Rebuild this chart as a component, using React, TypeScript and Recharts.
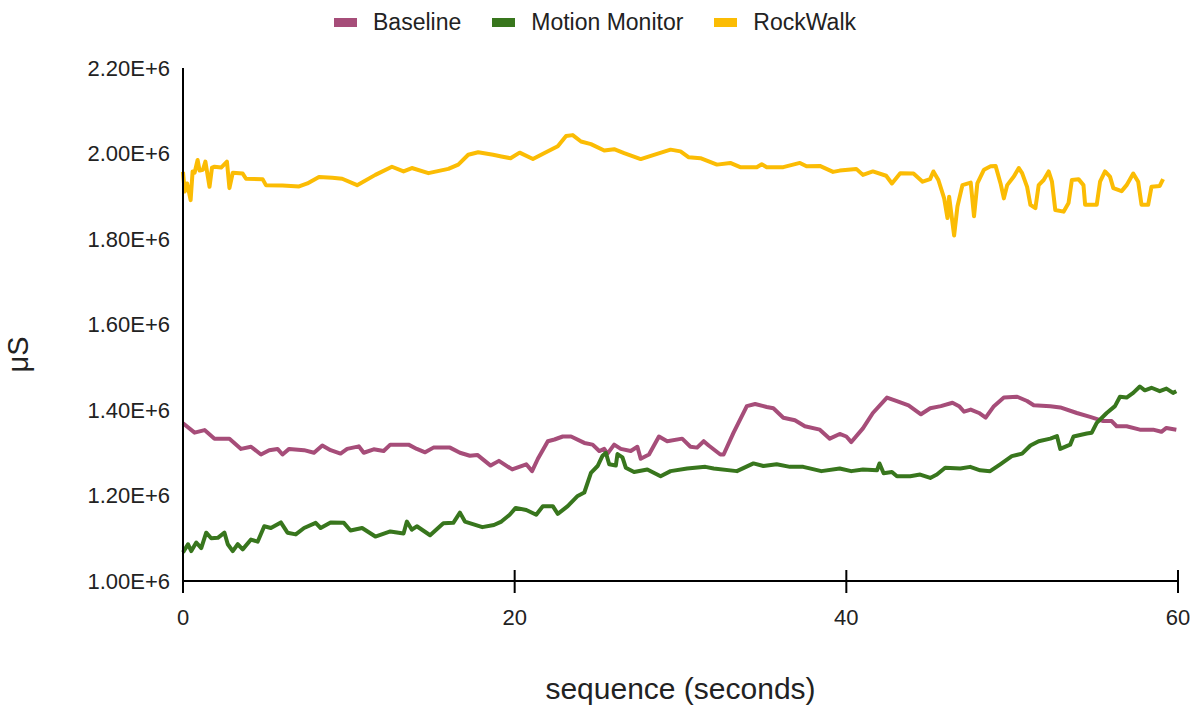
import React from 'react';
import { LineChart, Line, XAxis, YAxis, Legend } from 'recharts';

// Readings of skin conductance, values in thousands of μS (x1E3), time in seconds
const baselineTime = [
  0, 0.7, 1.3, 1.9, 2.8, 3.5, 4.1, 4.7, 5.2, 5.7, 6.0, 6.4, 7.3, 7.9, 8.4, 8.9, 9.5, 9.9, 10.6, 10.9,
  11.5, 12.1, 12.5, 13.6, 14.1, 14.6, 15.1, 16.1, 16.7, 17.3, 17.75, 18.55, 19.05, 19.85, 20.7, 21.05,
  21.4, 22.0, 22.4, 22.9, 23.4, 24.2, 24.7, 25.1, 25.4, 25.6, 26.0, 26.4, 27.0, 27.4, 27.6, 28.1, 28.7,
  29.2, 30.1, 30.6, 31.0, 31.4, 31.7, 32.4, 32.6, 33.2, 34.0, 34.5, 35.2, 35.6, 36.2, 36.9, 37.5, 38.4,
  39.0, 39.6, 40.0, 40.3, 41.0, 41.6, 42.45, 43.05, 43.75, 44.5, 45.06, 45.7, 46.4, 46.8, 47.1, 47.5,
  48.0, 48.4, 48.9, 49.5, 50.3, 50.9, 51.3, 52.3, 52.9, 53.9, 54.7, 55.5, 56.0, 56.3, 56.9, 57.7, 58.5,
  59.0, 59.3, 59.9,
];
const baselineValue = [
  1369, 1347, 1353, 1333, 1333, 1309, 1314, 1296, 1306, 1309, 1296, 1309, 1306, 1300, 1317, 1306, 1298,
  1309, 1315, 1300, 1308, 1304, 1319, 1319, 1309, 1301, 1312, 1312, 1300, 1293, 1295, 1270, 1281, 1261,
  1273, 1257, 1286, 1327, 1331, 1338, 1338, 1323, 1319, 1304, 1309, 1298, 1319, 1309, 1304, 1314, 1286,
  1296, 1338, 1327, 1333, 1314, 1312, 1327, 1317, 1296, 1296, 1347, 1409, 1414, 1407, 1404, 1382, 1376,
  1362, 1354, 1333, 1344, 1338, 1325, 1357, 1393, 1429, 1421, 1411, 1390, 1404, 1409, 1417, 1409, 1396,
  1401, 1393, 1382, 1409, 1429, 1431, 1421, 1411, 1409, 1406, 1393, 1384, 1374, 1374, 1362, 1362, 1354,
  1354, 1349, 1358, 1354,
];

const motionTime = [
  0, 0.3, 0.5, 0.8, 1.1, 1.4, 1.7, 2.1, 2.5, 2.7, 3.0, 3.3, 3.6, 4.1, 4.5, 4.9, 5.3, 5.9, 6.3, 6.8, 7.3,
  8.0, 8.3, 8.9, 9.7, 10.1, 10.8, 11.6, 12.5, 13.3, 13.5, 13.8, 14.1, 14.9, 15.7, 16.3, 16.7, 17.0, 18.05,
  18.75, 19.2, 19.7, 20.06, 20.7, 21.3, 21.7, 22.3, 22.6, 23.2, 23.8, 24.2, 24.6, 25.0, 25.3, 25.5, 25.7,
  26.1, 26.2, 26.5, 26.7, 27.2, 28.0, 28.8, 29.4, 30.4, 31.5, 32.0, 33.4, 34.4, 35.0, 35.8, 36.6, 37.4,
  38.5, 39.6, 40.3, 41.0, 41.85, 42.0, 42.25, 42.75, 43.05, 43.85, 44.45, 45.06, 45.46, 45.96, 46.87,
  47.47, 48.07, 48.67, 49.28, 49.98, 50.6, 51.1, 51.6, 52.3, 52.7, 52.9, 53.5, 53.7, 54.5, 54.8, 55.1,
  55.7, 56.2, 56.5, 56.9, 57.3, 57.7, 58.0, 58.4, 58.9, 59.3, 59.7, 59.9,
];
const motionValue = [
  1067, 1086, 1070, 1090, 1077, 1113, 1100, 1101, 1113, 1086, 1070, 1086, 1074, 1097, 1092, 1128, 1124,
  1137, 1113, 1109, 1124, 1136, 1124, 1137, 1136, 1118, 1124, 1104, 1116, 1111, 1139, 1120, 1128, 1107,
  1135, 1136, 1160, 1139, 1126, 1131, 1139, 1155, 1171, 1166, 1155, 1175, 1175, 1157, 1175, 1199, 1207,
  1253, 1269, 1293, 1300, 1273, 1270, 1297, 1289, 1265, 1255, 1261, 1245, 1257, 1263, 1267, 1263, 1257,
  1275, 1269, 1273, 1267, 1267, 1257, 1263, 1257, 1261, 1259, 1275, 1252, 1255, 1245, 1245, 1249, 1241,
  1249, 1265, 1263, 1267, 1259, 1257, 1273, 1292, 1298, 1317, 1327, 1333, 1339, 1309, 1319, 1338, 1345,
  1347, 1370, 1393, 1409, 1431, 1429, 1440, 1455, 1446, 1452, 1444, 1450, 1440, 1444,
];

const rockWalkTime = [
  0, 0.1, 0.25, 0.46, 0.58, 0.7, 0.88, 1.0, 1.2, 1.35, 1.6, 1.75, 1.9, 2.3, 2.65, 2.8, 3.0, 3.6, 3.8, 4.8,
  5.0, 6.0, 7.0, 7.5, 8.2, 9.0, 9.6, 10.5, 11.6, 12.6, 13.3, 13.8, 14.8, 16.0, 16.6, 17.2, 17.8, 18.7,
  19.2, 19.75, 20.3, 21.1, 21.8, 22.6, 23.1, 23.5, 24.0, 24.6, 25.4, 26.0, 26.6, 27.6, 28.4, 29.4, 30.0,
  30.5, 31.2, 32.2, 33.0, 33.6, 34.6, 34.9, 35.2, 36.2, 37.2, 37.6, 38.4, 39.2, 39.6, 40.6, 41.0, 41.6,
  42.4, 42.75, 43.25, 44.05, 44.6, 45.05, 45.25, 45.55, 45.9, 46.1, 46.2, 46.5, 46.7, 47.0, 47.5, 47.7,
  47.9, 48.3, 48.7, 49.0, 49.3, 49.5, 49.7, 50.1, 50.4, 50.6, 50.9, 51.1, 51.4, 51.6, 51.9, 52.2, 52.4,
  52.6, 53.1, 53.4, 53.6, 54.0, 54.3, 54.4, 55.1, 55.3, 55.6, 55.9, 56.1, 56.6, 56.9, 57.3, 57.6, 57.8,
  58.2, 58.4, 58.9, 59.1,
];
const rockWalkValue = [
  1957, 1911, 1930, 1891, 1958, 1955, 1985, 1960, 1962, 1981, 1922, 1967, 1969, 1967, 1981, 1919, 1955,
  1953, 1941, 1940, 1926, 1925, 1923, 1930, 1945, 1943, 1941, 1926, 1950, 1969, 1958, 1966, 1954, 1964,
  1974, 1997, 2003, 1997, 1993, 1989, 2002, 1987, 2001, 2017, 2041, 2043, 2028, 2022, 2007, 2010, 2001,
  1987, 1997, 2009, 2005, 1991, 1989, 1974, 1978, 1968, 1968, 1975, 1968, 1968, 1978, 1970, 1971, 1957,
  1960, 1964, 1950, 1958, 1948, 1930, 1954, 1953, 1934, 1940, 1958, 1938, 1895, 1849, 1899, 1808, 1876,
  1926, 1932, 1853, 1930, 1962, 1970, 1971, 1930, 1895, 1926, 1946, 1966, 1954, 1922, 1880, 1872, 1926,
  1938, 1958, 1934, 1868, 1864, 1884, 1938, 1940, 1926, 1880, 1880, 1934, 1958, 1946, 1919, 1912, 1926,
  1953, 1934, 1880, 1880, 1922, 1924, 1940,
];

const xTicks = [0, 20, 40, 60];
const yTicks = [1.0e6, 1.2e6, 1.4e6, 1.6e6, 1.8e6, 2.0e6, 2.2e6];

const SERIES = [
  { name: 'Baseline', color: '#a64d79', time: baselineTime, value: baselineValue },
  { name: 'Motion Monitor', color: '#38761d', time: motionTime, value: motionValue },
  { name: 'RockWalk', color: '#fbbc04', time: rockWalkTime, value: rockWalkValue },
];

const FONT = '"Liberation Sans", Arial, sans-serif';

function toRows(time: number[], value: number[]) {
  return time.map((t, i) => ({ t, v: value[i] * 1000 }));
}

function XTick({ x, y, payload }: any) {
  return (
    <g>
      <line x1={x} x2={x} y1={y - 11} y2={y + 12} stroke="#000" strokeWidth={2} />
      <text x={x} y={y + 44} textAnchor="middle" fontSize={22} fill="#222" fontFamily={FONT}>
        {payload.value}
      </text>
    </g>
  );
}

function LegendRow() {
  return (
    <div
      style={{
        height: 44,
        display: 'flex',
        alignItems: 'center',
        paddingLeft: 334,
        fontFamily: FONT,
        fontSize: 23,
        color: '#222',
      }}
    >
      {SERIES.map((s) => (
        <div key={s.name} style={{ display: 'flex', alignItems: 'center', marginRight: 31 }}>
          <span style={{ width: 23, height: 9, background: s.color, marginRight: 16 }} />
          <span>{s.name}</span>
        </div>
      ))}
    </div>
  );
}

export default function App() {
  return (
    <div style={{ position: 'absolute', left: 0, top: 0, background: '#fff' }}>
      <LineChart width={1200} height={711} margin={{ top: 24, right: 22, left: 0, bottom: 0 }}>
        <Legend
          verticalAlign="top"
          content={<LegendRow />}
          wrapperStyle={{ top: 0, left: 0, width: 1200 }}
        />
        <XAxis
          type="number"
          dataKey="t"
          domain={[0, 60]}
          ticks={xTicks}
          height={130}
          tickLine={false}
          tickSize={0}
          tickMargin={0}
          tick={<XTick />}
          axisLine={{ stroke: '#000', strokeWidth: 2 }}
          label={{
            value: 'sequence (seconds)',
            position: 'insideBottom',
            offset: 12,
            fontSize: 30,
            fill: '#222',
            fontFamily: FONT,
          }}
        />
        <YAxis
          type="number"
          domain={[1.0e6, 2.2e6]}
          ticks={yTicks}
          width={183}
          tickLine={false}
          tickSize={0}
          tickMargin={13}
          tick={{ fontSize: 22, fill: '#222', fontFamily: FONT }}
          tickFormatter={(v: number) => (v / 1e6).toFixed(2) + 'E+6'}
          axisLine={{ stroke: '#000', strokeWidth: 2 }}
          label={{
            value: 'μS',
            angle: -90,
            position: 'insideLeft',
            offset: 18,
            dy: 48,
            fontSize: 29,
            fill: '#222',
            fontFamily: FONT,
          }}
        />
        {SERIES.map((s) => (
          <Line
            key={s.name}
            data={toRows(s.time, s.value)}
            dataKey="v"
            name={s.name}
            type="linear"
            stroke={s.color}
            strokeWidth={4}
            strokeLinejoin="round"
            dot={false}
            activeDot={false}
            isAnimationActive={false}
          />
        ))}
      </LineChart>
    </div>
  );
}
